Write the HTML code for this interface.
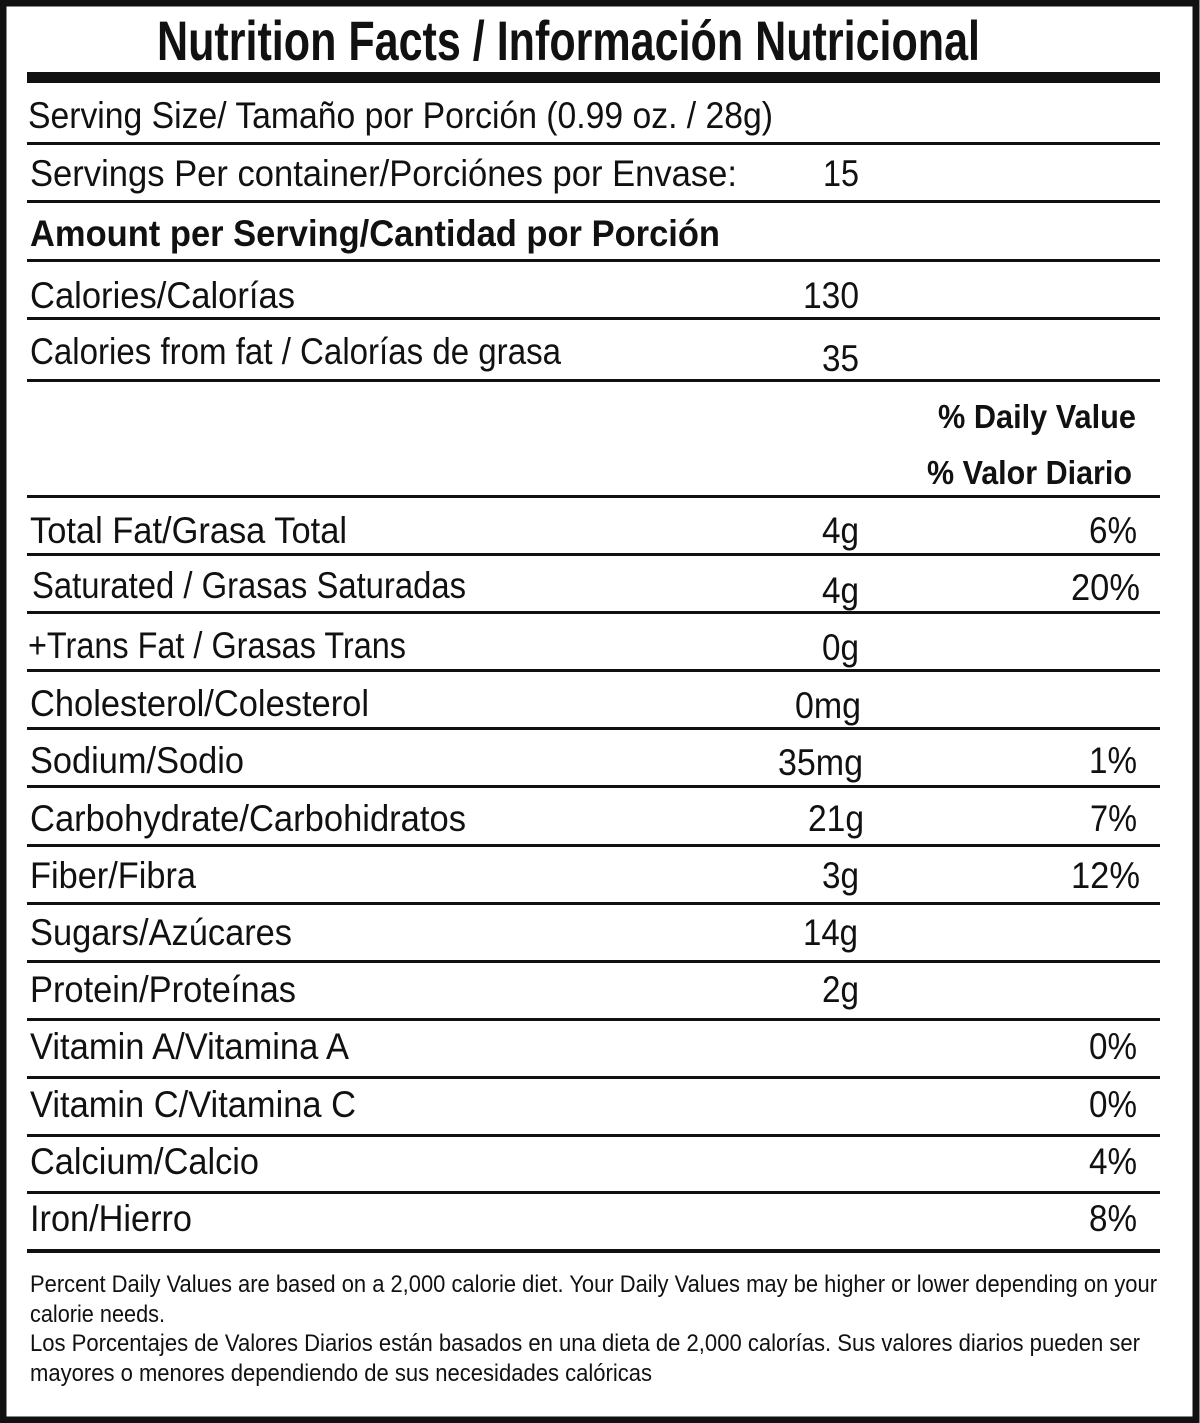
<!DOCTYPE html>
<html><head><meta charset="utf-8"><style>
html,body{margin:0;padding:0;background:#fff}
svg{display:block}
text{font-family:"Liberation Sans Narrow","Liberation Sans",sans-serif;fill:#111}
.r{font-size:37px}
.b{font-weight:bold}
.f{font-size:24px}
</style></head><body>
<svg width="1200" height="1423" viewBox="0 0 1200 1423" xmlns="http://www.w3.org/2000/svg">
<rect x="0" y="0" width="1200" height="1423" fill="#fff"/>
<rect x="3" y="3" width="1193" height="1417" fill="none" stroke="#111" stroke-width="7"/>
<text x="157" y="60" font-size="56" class="b" textLength="823" lengthAdjust="spacingAndGlyphs">Nutrition Facts / Información Nutricional</text>
<rect x="27" y="72" width="1133" height="11" fill="#111"/>
<g fill="#111">
<rect x="27" y="142" width="1133" height="3"/>
<rect x="27" y="200" width="1133" height="3"/>
<rect x="27" y="259" width="1133" height="3"/>
<rect x="27" y="317" width="1133" height="3"/>
<rect x="27" y="379" width="1133" height="3"/>
<rect x="27" y="495" width="1133" height="3"/>
<rect x="27" y="553" width="1133" height="3"/>
<rect x="27" y="611" width="1133" height="3"/>
<rect x="27" y="669" width="1133" height="3"/>
<rect x="27" y="727" width="1133" height="3"/>
<rect x="27" y="785" width="1133" height="3"/>
<rect x="27" y="844" width="1133" height="3"/>
<rect x="27" y="902" width="1133" height="3"/>
<rect x="27" y="960" width="1133" height="3"/>
<rect x="27" y="1018" width="1133" height="3"/>
<rect x="27" y="1076" width="1133" height="3"/>
<rect x="27" y="1134" width="1133" height="3"/>
<rect x="27" y="1191" width="1133" height="3"/>
<rect x="27" y="1249" width="1133" height="4"/>
</g>
<g class="r">
<text x="28" y="128" textLength="745" lengthAdjust="spacingAndGlyphs">Serving Size/ Tamaño por Porción  (0.99 oz. / 28g)</text>
<text x="30" y="186" textLength="707" lengthAdjust="spacingAndGlyphs">Servings Per container/Porciónes por Envase:</text>
<text x="823" y="186" textLength="36" lengthAdjust="spacingAndGlyphs">15</text>
<text x="30" y="246" class="b" textLength="690" lengthAdjust="spacingAndGlyphs">Amount per Serving/Cantidad por Porción</text>
<text x="30" y="308" textLength="265" lengthAdjust="spacingAndGlyphs">Calories/Calorías</text>
<text x="803" y="308" textLength="56" lengthAdjust="spacingAndGlyphs">130</text>
<text x="30" y="364" textLength="531" lengthAdjust="spacingAndGlyphs">Calories from fat / Calorías de grasa</text>
<text x="822" y="371" textLength="37" lengthAdjust="spacingAndGlyphs">35</text>
<text x="938" y="428" class="b" font-size="33" textLength="198" lengthAdjust="spacingAndGlyphs">% Daily Value</text>
<text x="927" y="484" class="b" font-size="33" textLength="205" lengthAdjust="spacingAndGlyphs">% Valor Diario</text>
<text x="30" y="543" textLength="317" lengthAdjust="spacingAndGlyphs">Total Fat/Grasa Total</text>
<text x="822" y="543" textLength="37" lengthAdjust="spacingAndGlyphs">4g</text><text x="1089" y="543" textLength="48" lengthAdjust="spacingAndGlyphs">6%</text>
<text x="32" y="598" textLength="434" lengthAdjust="spacingAndGlyphs">Saturated / Grasas Saturadas</text>
<text x="822" y="603" textLength="37" lengthAdjust="spacingAndGlyphs">4g</text><text x="1071" y="600" textLength="69" lengthAdjust="spacingAndGlyphs">20%</text>
<text x="28" y="658" textLength="378" lengthAdjust="spacingAndGlyphs">+Trans Fat / Grasas Trans</text>
<text x="822" y="660" textLength="37" lengthAdjust="spacingAndGlyphs">0g</text>
<text x="30" y="716" textLength="339" lengthAdjust="spacingAndGlyphs">Cholesterol/Colesterol</text>
<text x="795" y="718" textLength="66" lengthAdjust="spacingAndGlyphs">0mg</text>
<text x="30" y="773" textLength="214" lengthAdjust="spacingAndGlyphs">Sodium/Sodio</text>
<text x="778" y="775" textLength="85" lengthAdjust="spacingAndGlyphs">35mg</text><text x="1089" y="773" textLength="48" lengthAdjust="spacingAndGlyphs">1%</text>
<text x="30" y="831" textLength="436" lengthAdjust="spacingAndGlyphs">Carbohydrate/Carbohidratos</text>
<text x="808" y="831" textLength="56" lengthAdjust="spacingAndGlyphs">21g</text><text x="1090" y="831" textLength="47" lengthAdjust="spacingAndGlyphs">7%</text>
<text x="30" y="888" textLength="166" lengthAdjust="spacingAndGlyphs">Fiber/Fibra</text>
<text x="822" y="888" textLength="37" lengthAdjust="spacingAndGlyphs">3g</text><text x="1071" y="888" textLength="69" lengthAdjust="spacingAndGlyphs">12%</text>
<text x="30" y="945" textLength="262" lengthAdjust="spacingAndGlyphs">Sugars/Azúcares</text>
<text x="803" y="945" textLength="55" lengthAdjust="spacingAndGlyphs">14g</text>
<text x="30" y="1002" textLength="266" lengthAdjust="spacingAndGlyphs">Protein/Proteínas</text>
<text x="822" y="1002" textLength="37" lengthAdjust="spacingAndGlyphs">2g</text>
<text x="30" y="1059" textLength="319" lengthAdjust="spacingAndGlyphs">Vitamin A/Vitamina A</text>
<text x="1089" y="1059" textLength="48" lengthAdjust="spacingAndGlyphs">0%</text>
<text x="30" y="1117" textLength="326" lengthAdjust="spacingAndGlyphs">Vitamin C/Vitamina C</text>
<text x="1089" y="1117" textLength="48" lengthAdjust="spacingAndGlyphs">0%</text>
<text x="30" y="1174" textLength="229" lengthAdjust="spacingAndGlyphs">Calcium/Calcio</text>
<text x="1089" y="1174" textLength="48" lengthAdjust="spacingAndGlyphs">4%</text>
<text x="30" y="1231" textLength="162" lengthAdjust="spacingAndGlyphs">Iron/Hierro</text>
<text x="1089" y="1231" textLength="48" lengthAdjust="spacingAndGlyphs">8%</text>
</g>
<g class="f">
<text x="30" y="1292" textLength="1127" lengthAdjust="spacingAndGlyphs">Percent Daily Values are based on a 2,000 calorie diet. Your Daily Values may be higher or lower depending on your</text>
<text x="30" y="1322" textLength="135" lengthAdjust="spacingAndGlyphs">calorie needs.</text>
<text x="30" y="1351" textLength="1110" lengthAdjust="spacingAndGlyphs">Los Porcentajes de Valores Diarios están basados en una dieta de 2,000 calorías. Sus valores diarios pueden ser</text>
<text x="30" y="1381" textLength="622" lengthAdjust="spacingAndGlyphs">mayores o menores dependiendo de sus necesidades calóricas</text>
</g>
</svg>
</body></html>
